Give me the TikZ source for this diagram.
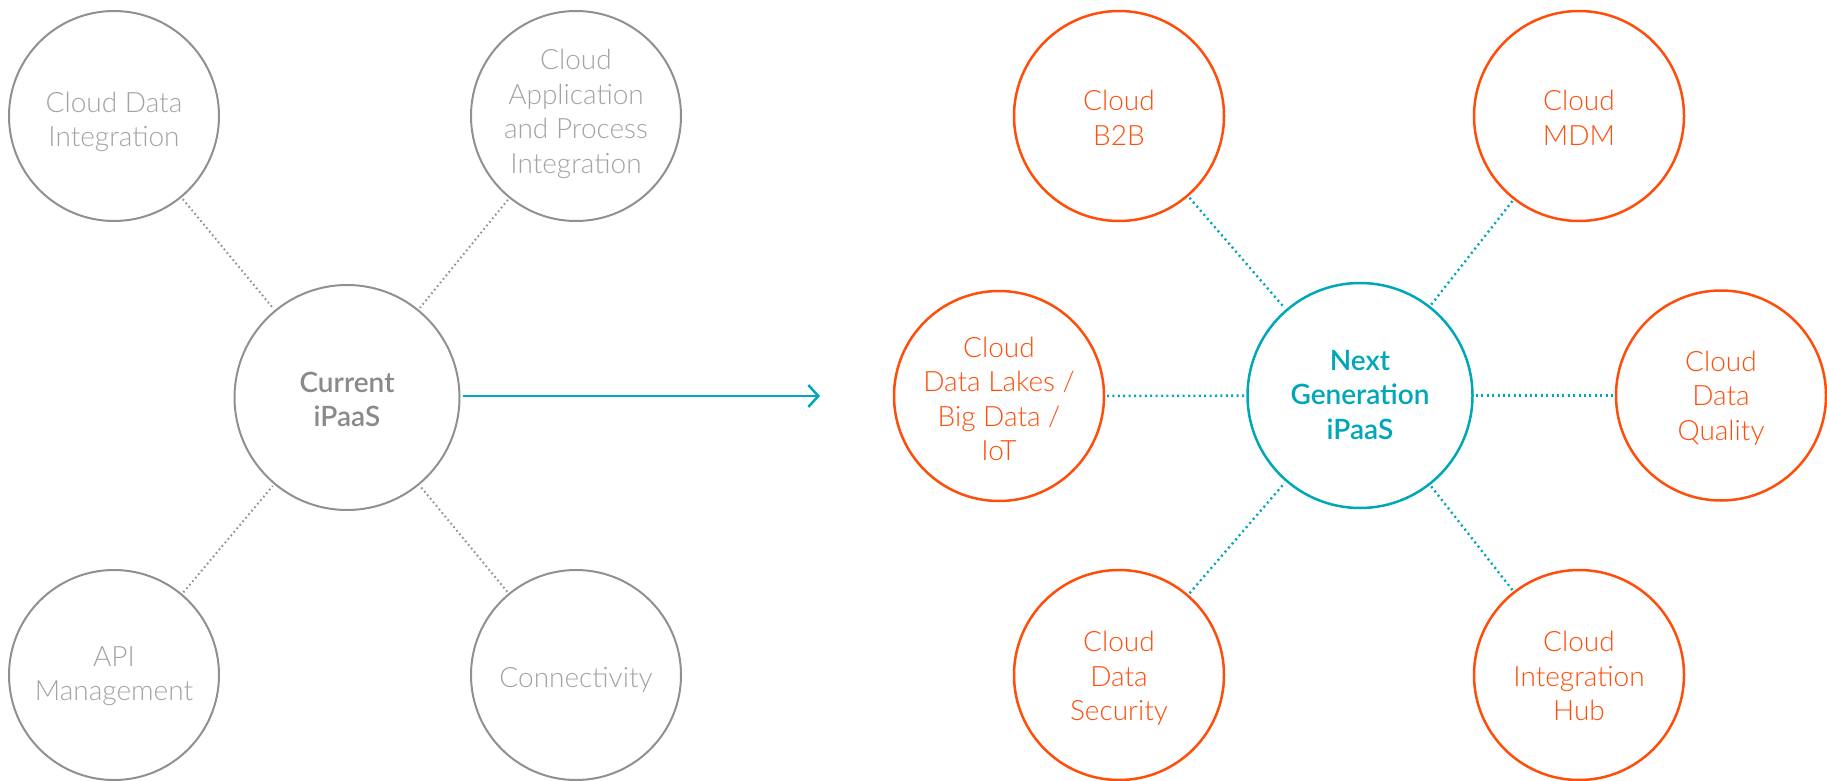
\documentclass[tikz,border=0pt]{standalone}
\usepackage{fontspec}
\setmainfont{Lato Light}[BoldFont=Lato Semibold]
\usetikzlibrary{arrows.meta}
\definecolor{cgray}{HTML}{909090}
\definecolor{tgray}{HTML}{A3A3A3}
\definecolor{bgray}{HTML}{8A8A8A}
\definecolor{corange}{HTML}{FF4D0A}
\definecolor{cteal}{HTML}{00A7B8}
% #1: how far the first baseline sits above the circle centre (pt)
\newcommand\ctext[2]{\raisebox{0pt}[0pt][\dimexpr 2\dimexpr #1pt\relax\relax]{\begin{tabular}[t]{@{}c@{}}#2\end{tabular}}}
\newcommand\ctextlow[2]{\raisebox{0pt}[\dimexpr 2\dimexpr #1pt\relax\relax][0pt]{\begin{tabular}[t]{@{}c@{}}#2\end{tabular}}}
\tikzset{
  every node/.style={font=\fontsize{28}{34.5}\selectfont},
  oldc/.style={circle,draw=cgray,line width=2pt,minimum size=210pt,inner sep=0pt,text=tgray,outer sep=3pt},
  oldhub/.style={oldc,minimum size=225pt,text=bgray,font=\fontsize{28}{34.5}\selectfont\bfseries},
  newc/.style={circle,draw=corange,line width=2.5pt,minimum size=210pt,inner sep=0pt,text=corange,outer sep=3pt},
  newhub/.style={circle,draw=cteal,line width=2.5pt,minimum size=225pt,inner sep=0pt,text=cteal,outer sep=3pt,font=\fontsize{28}{34.5}\selectfont\bfseries},
  olddot/.style={draw=cgray,line width=2pt,dash pattern=on 1.6pt off 3pt},
  newdot/.style={draw=cteal,line width=2.4pt,dash pattern=on 2pt off 3.4pt},
  flow/.style={draw=cteal,line width=2.5pt,-{Straight Barb[length=10pt,width=22pt,line width=2.5pt]}},
}
\begin{document}
\begin{tikzpicture}[x=1pt,y=-1pt]
\useasboundingbox (0,0) rectangle (1827,781);
% left
\node[oldhub] (cur) at (347,397.5) {\ctext{5.5}{Current\\iPaaS}};
\node[oldc] (cdi) at (114,116) {\ctext{3.5}{Cloud Data\\Integration}};
\node[oldc] (cap) at (576,116) {\ctext{46}{Cloud\\Application\\and Process\\Integration}};
\node[oldc] (api) at (114,675) {\ctext{9}{API\\Management}};
\node[oldc] (con) at (576,675) {\ctextlow{12}{Connectivity}};
\draw[olddot] (cdi) -- (cur);
\draw[olddot] (cap) -- (cur);
\draw[olddot] (api) -- (cur);
\draw[olddot] (con) -- (cur);
% arrow
\coordinate (tip) at (820,396);
\draw[flow] (cur.east |- tip) -- (tip);
% right
\node[newhub] (ng) at (1360,395.5) {\ctext{25.5}{Next\\Generation\\iPaaS}};
\node[newc] (b2b) at (1119,116) {\ctext{5}{Cloud\\B2B}};
\node[newc] (mdm) at (1579,116) {\ctext{5}{Cloud\\MDM}};
\node[newc] (lake) at (999,396) {\ctext{39}{Cloud\\Data Lakes /\\Big Data /\\IoT}};
\node[newc] (qual) at (1721,395.5) {\ctext{24.5}{Cloud\\Data\\Quality}};
\node[newc] (sec) at (1119,675) {\ctext{23.5}{Cloud\\Data\\Security}};
\node[newc] (hub) at (1579,675) {\ctext{23.5}{Cloud\\Integration\\Hub}};
\draw[newdot] (b2b) -- (ng);
\draw[newdot] (mdm) -- (ng);
\draw[newdot] (lake) -- (ng);
\draw[newdot] (qual) -- (ng);
\draw[newdot] (sec) -- (ng);
\draw[newdot] (hub) -- (ng);
\end{tikzpicture}
\end{document}
